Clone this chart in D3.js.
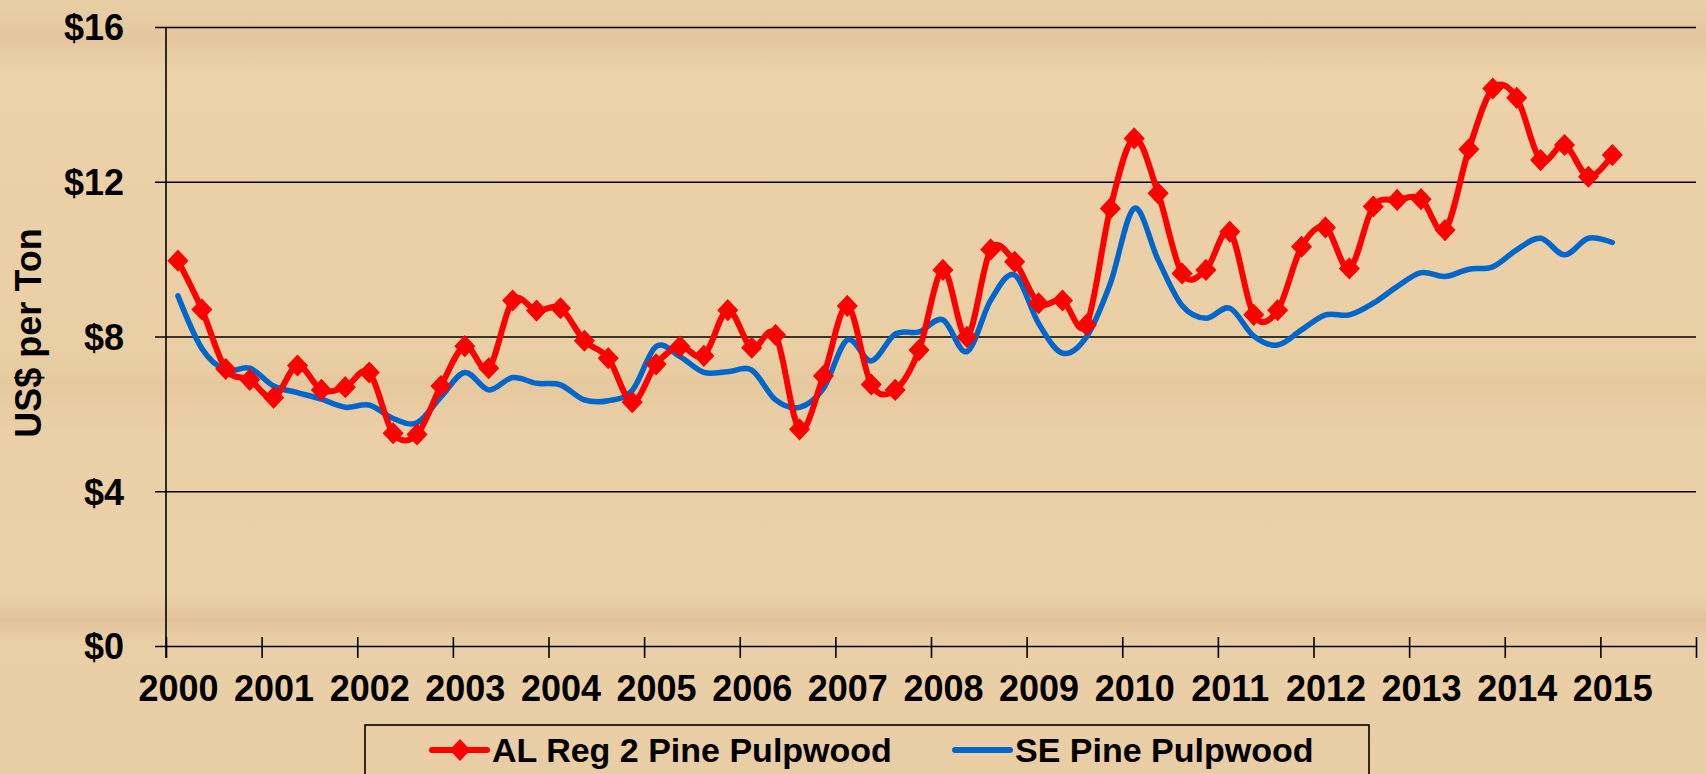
<!DOCTYPE html>
<html>
<head>
<meta charset="utf-8">
<script src="https://cdn.jsdelivr.net/npm/d3@7"></script>
<style>
  html, body { margin: 0; padding: 0; overflow: hidden; }
  body { width: 1706px; height: 774px; }
  text { font-family: "Liberation Sans", Arial, sans-serif; font-weight: bold; fill: #000; }
</style>
</head>
<body>
<script>
// Quarterly prices, 2000 Q1 .. 2015 Q1 (US$ per ton)
const years = d3.range(2000, 2016);
const yTicks = [0, 4, 8, 12, 16];

const alReg2 = [
  9.96, 8.70, 7.16, 6.88, 6.42, 7.25, 6.62, 6.69, 7.07, 5.50,
  5.47, 6.72, 7.75, 7.18, 8.93, 8.67, 8.73, 7.89, 7.44, 6.30,
  7.28, 7.74, 7.50, 8.68, 7.71, 8.04, 5.60, 6.98, 8.79, 6.76,
  6.62, 7.65, 9.72, 7.99, 10.25, 9.93, 8.86, 8.93, 8.30, 11.31,
  13.12, 11.70, 9.63, 9.72, 10.71, 8.56, 8.68, 10.32, 10.82, 9.76,
  11.36, 11.53, 11.55, 10.75, 12.84, 14.41, 14.17, 12.56, 12.95, 12.13,
  12.69
];

const sePine = [
  9.05, 7.69, 7.13, 7.18, 6.72, 6.55, 6.38, 6.17, 6.23, 5.88,
  5.77, 6.44, 7.07, 6.62, 6.94, 6.79, 6.75, 6.36, 6.34, 6.60,
  7.74, 7.48, 7.07, 7.09, 7.13, 6.36, 6.17, 6.66, 7.91, 7.37,
  8.06, 8.12, 8.43, 7.61, 8.94, 9.59, 8.34, 7.57, 7.99, 9.37,
  11.31, 9.98, 8.80, 8.47, 8.73, 8.01, 7.78, 8.17, 8.56, 8.56,
  8.86, 9.29, 9.65, 9.55, 9.74, 9.80, 10.24, 10.54, 10.11, 10.54,
  10.43
];

const seriesNames = ["AL Reg 2 Pine Pulpwood", "SE Pine Pulpwood"];

const width = 1706, height = 774;
const plot = { left: 166, right: 1696, top: 27, bottom: 646 };

const svg = d3.select("body").append("svg")
  .attr("width", width)
  .attr("height", height);

// wood-ish background
const defs = svg.append("defs");
const bg = defs.append("linearGradient")
  .attr("id", "wood")
  .attr("x1", 0).attr("x2", 0).attr("y1", 0).attr("y2", 1);
[
  [0, "#eacfa6"], [0.05, "#e3c69d"], [0.09, "#ecd2a9"], [0.3, "#ebd0a7"],
  [0.45, "#eacfa5"], [0.5, "#e5c89e"], [0.56, "#ebd0a7"], [0.77, "#ecd1a8"],
  [0.8, "#e0c39a"], [0.83, "#eacfa6"], [1, "#e9cda4"]
].forEach(([o, c]) => bg.append("stop").attr("offset", o).attr("stop-color", c));

svg.append("rect")
  .attr("width", width)
  .attr("height", height)
  .attr("fill", "url(#wood)");

// scales: category axis of quarters, 2000 Q1 .. 2015 Q4
const x = d3.scaleLinear()
  .domain([0, years.length * 4])
  .range([plot.left, plot.right]);

const y = d3.scaleLinear()
  .domain([0, 16])
  .range([plot.bottom, plot.top]);

// gridlines + y axis
const yAxis = svg.append("g")
  .attr("transform", `translate(${plot.left},0)`)
  .call(d3.axisLeft(y)
    .tickValues(yTicks)
    .tickSize(11)
    .tickPadding(31)
    .tickFormat(d => "$" + d));
yAxis.select(".domain").remove();
yAxis.selectAll(".tick line")
  .attr("x2", plot.right - plot.left)
  .attr("x1", -11)
  .attr("stroke", "#000")
  .attr("stroke-width", 1.6);
yAxis.selectAll(".tick text")
  .attr("font-size", 36)
  .attr("dy", "0.36em");

// vertical axis line
svg.append("line")
  .attr("x1", plot.left).attr("x2", plot.left)
  .attr("y1", y(16)).attr("y2", plot.bottom + 12)
  .attr("stroke", "#000")
  .attr("stroke-width", 1.6);

// x tick marks at year boundaries
const xTicks = svg.append("g")
  .attr("transform", `translate(0,${plot.bottom})`)
  .call(d3.axisBottom(x)
    .tickValues(d3.range(0, years.length * 4 + 1, 4))
    .tickSize(12)
    .tickFormat(""));
xTicks.select(".domain").remove();
xTicks.selectAll(".tick line")
  .attr("y1", -9)
  .attr("stroke", "#000")
  .attr("stroke-width", 1.6);

// year labels sit under the first quarter of each year
const xLabels = svg.append("g")
  .attr("transform", `translate(0,${plot.bottom})`)
  .call(d3.axisBottom(x)
    .tickValues(years.map((yr, i) => i * 4 + 0.5))
    .tickSize(0)
    .tickPadding(29)
    .tickFormat((d, i) => years[i]));
xLabels.select(".domain").remove();
xLabels.selectAll(".tick text").attr("font-size", 36);

// axis title
svg.append("text")
  .attr("transform", `translate(41,333) rotate(-90)`)
  .attr("text-anchor", "middle")
  .attr("font-size", 36)
  .text("US$ per Ton");

// lines
const line = d3.line()
  .x((d, i) => x(i + 0.5))
  .y(d => y(d))
  .curve(d3.curveCardinal.tension(0));

svg.append("path")
  .datum(sePine)
  .attr("fill", "none")
  .attr("stroke", "#0066cc")
  .attr("stroke-width", 5.5)
  .attr("stroke-linecap", "round")
  .attr("d", line);

svg.append("path")
  .datum(alReg2)
  .attr("fill", "none")
  .attr("stroke", "#ff0000")
  .attr("stroke-width", 6)
  .attr("stroke-linejoin", "round")
  .attr("d", line);

const diamond = "M0,-10L9.5,0L0,10L-9.5,0Z";

svg.append("g")
  .selectAll("path")
  .data(alReg2)
  .join("path")
  .attr("transform", (d, i) => `translate(${x(i + 0.5)},${y(d)})`)
  .attr("d", diamond)
  .attr("fill", "#ff0000")
  .attr("stroke", "#ff0000")
  .attr("stroke-width", 1.5);

// legend
const legend = svg.append("g");
legend.append("rect")
  .attr("x", 365).attr("y", 725)
  .attr("width", 1004).attr("height", 80)
  .attr("fill", "none")
  .attr("stroke", "#000")
  .attr("stroke-width", 1.6);

const legendItems = [
  { name: seriesNames[0], color: "#ff0000", x: 432, marker: true, w: 6 },
  { name: seriesNames[1], color: "#0066cc", x: 955, marker: false, w: 6 }
];

legendItems.forEach(it => {
  const g = legend.append("g").attr("transform", `translate(${it.x},750)`);
  g.append("line")
    .attr("x1", 0).attr("x2", 55)
    .attr("stroke", it.color)
    .attr("stroke-width", it.w)
    .attr("stroke-linecap", "round");
  if (it.marker) {
    g.append("path")
      .attr("transform", "translate(28,0)")
      .attr("d", diamond)
      .attr("fill", it.color)
      .attr("stroke", it.color)
      .attr("stroke-width", 1.5);
  }
  g.append("text")
    .attr("x", 60)
    .attr("dy", "0.36em")
    .attr("font-size", 34)
    .text(it.name);
});
</script>
</body>
</html>
